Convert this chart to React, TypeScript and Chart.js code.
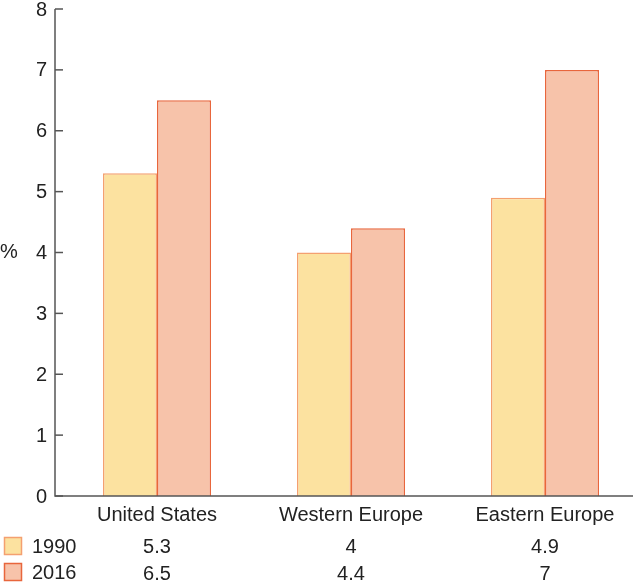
import React, { useEffect, useRef } from "react";
import { Chart, registerables } from "chart.js";

Chart.register(...registerables);

const categories = ["United States", "Western Europe", "Eastern Europe"];
const seriesNames = ["1990", "2016"];
const values1990 = [5.3, 4, 4.9];
const values2016 = [6.5, 4.4, 7];
const valueLabels1990 = ["5.3", "4", "4.9"];
const valueLabels2016 = ["6.5", "4.4", "7"];
const yTicks = [0, 1, 2, 3, 4, 5, 6, 7, 8];
const yTitle = "%";

const FILL_1990 = "#FCE2A0";
const BORDER_1990 = "#F4A070";
const FILL_2016 = "#F7C3AA";
const BORDER_2016 = "#E8663C";
const AXIS = "#555555";
const TEXT = "#222222";
const FONT = "20px 'Liberation Sans', Arial, sans-serif";

const drawPlugin = {
  id: "customAxesTable",
  afterDraw(chart: any) {
    const ctx = chart.ctx;
    const x = chart.scales.x;
    const y = chart.scales.y;
    const axisX = 55;
    const y0 = y.getPixelForValue(0);
    const yTop = y.getPixelForValue(8);
    ctx.save();
    ctx.strokeStyle = AXIS;
    ctx.lineWidth = 1.5;
    ctx.beginPath();
    ctx.moveTo(axisX, yTop);
    ctx.lineTo(axisX, y0);
    ctx.lineTo(633, y0);
    ctx.stroke();
    ctx.font = FONT;
    ctx.fillStyle = TEXT;
    ctx.textAlign = "right";
    ctx.textBaseline = "middle";
    yTicks.forEach((t) => {
      const py = y.getPixelForValue(t);
      ctx.beginPath();
      ctx.moveTo(axisX, py);
      ctx.lineTo(axisX + 8, py);
      ctx.stroke();
      ctx.fillText(String(t), 47, py + 1);
    });
    ctx.textAlign = "left";
    ctx.fillText(yTitle, 0, y.getPixelForValue(4));

    ctx.textAlign = "center";
    categories.forEach((c, i) => {
      const cx = x.getPixelForValue(i);
      ctx.fillText(c, cx, 515);
      ctx.fillText(valueLabels1990[i], cx, 547);
      ctx.fillText(valueLabels2016[i], cx, 574);
    });

    const rows = [
      { name: seriesNames[0], fill: FILL_1990, border: BORDER_1990, y: 537 },
      { name: seriesNames[1], fill: FILL_2016, border: BORDER_2016, y: 563 },
    ];
    rows.forEach((r) => {
      ctx.fillStyle = r.fill;
      ctx.fillRect(4, r.y, 18, 18);
      ctx.strokeStyle = r.border;
      ctx.lineWidth = 1.5;
      ctx.strokeRect(4.5, r.y + 0.5, 17, 17);
      ctx.fillStyle = TEXT;
      ctx.textAlign = "left";
      ctx.fillText(r.name, 32, r.y + 10);
    });
    ctx.restore();
  },
};

export default function App() {
  const ref = useRef<HTMLCanvasElement>(null);
  useEffect(() => {
    document.body.style.margin = "0";
    const chart = new Chart(ref.current as HTMLCanvasElement, {
      type: "bar",
      data: {
        labels: categories,
        datasets: [
          {
            label: seriesNames[0],
            data: values1990,
            backgroundColor: FILL_1990,
            borderColor: BORDER_1990,
            borderWidth: 1.5,
          },
          {
            label: seriesNames[1],
            data: values2016,
            backgroundColor: FILL_2016,
            borderColor: BORDER_2016,
            borderWidth: 1.5,
          },
        ],
      },
      options: {
        responsive: false,
        animation: false,
        devicePixelRatio: 1,
        layout: { padding: { left: 60, right: 3, top: 9, bottom: 86 } },
        datasets: { bar: { categoryPercentage: 0.557, barPercentage: 1 } },
        scales: {
          x: { display: false },
          y: { display: false, min: 0, max: 8 },
        },
        plugins: { legend: { display: false }, tooltip: { enabled: false } },
      },
      plugins: [drawPlugin],
    });
    return () => chart.destroy();
  }, []);
  return (
    <div style={{ width: 633, height: 582, overflow: "hidden", position: "relative", background: "#fff" }}>
      <canvas ref={ref} width={645} height={582} style={{ display: "block" }} />
    </div>
  );
}
